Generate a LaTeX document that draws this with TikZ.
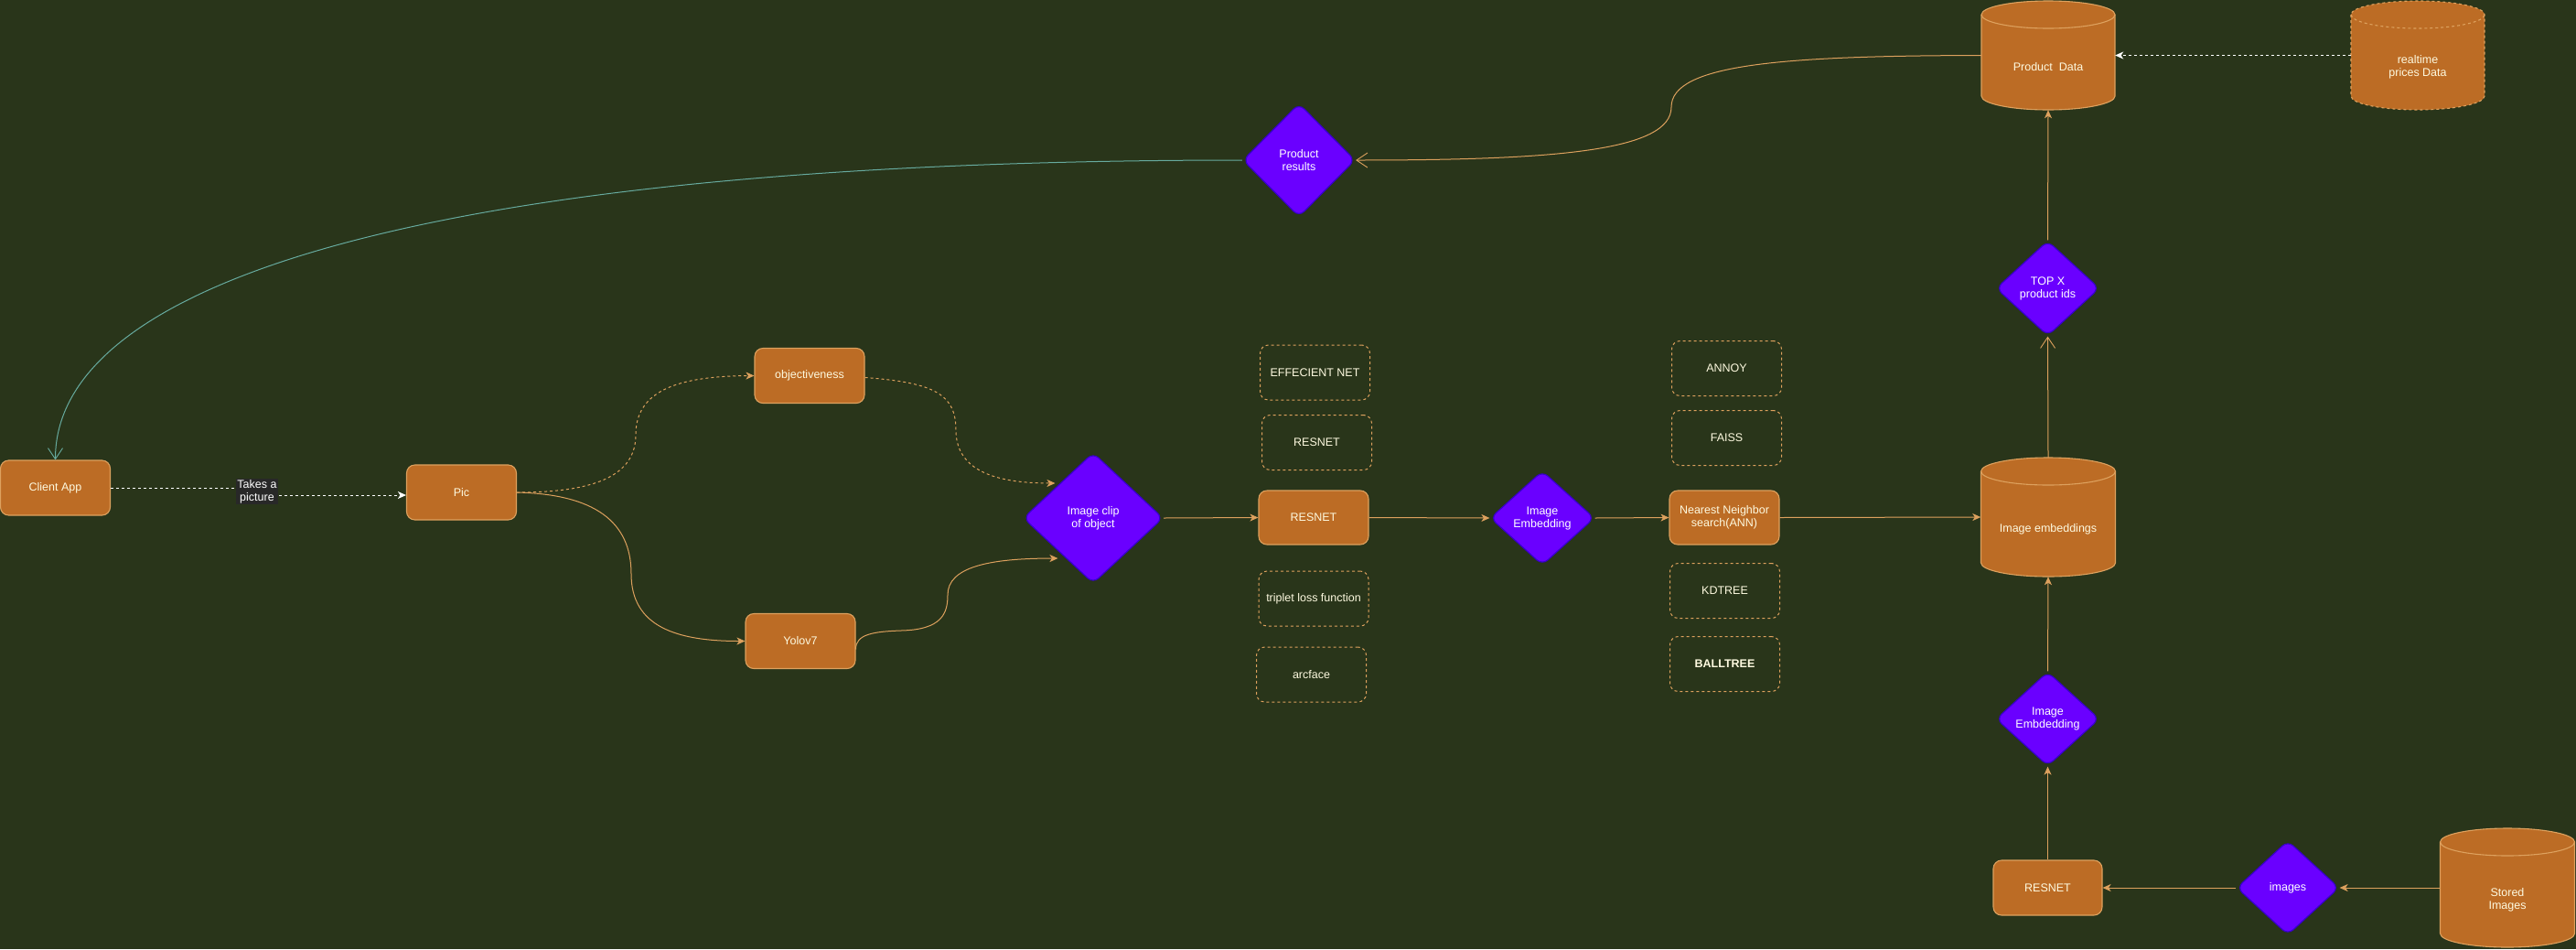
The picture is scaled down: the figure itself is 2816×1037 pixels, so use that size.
\documentclass[tikz,border=0pt]{standalone}
\usepackage{fontspec}
\setmainfont{Liberation Sans}
\usetikzlibrary{shapes.geometric,arrows.meta}
\definecolor{bg}{RGB}{41,53,26}
\definecolor{boxfill}{RGB}{188,108,37}
\definecolor{boxline}{RGB}{221,161,94}
\definecolor{cream}{RGB}{254,250,224}
\definecolor{purp}{RGB}{106,0,255}
\definecolor{purpline}{RGB}{55,0,204}
\definecolor{tealc}{RGB}{103,171,159}
\definecolor{lblbg}{RGB}{40,40,40}
\newcommand\cylpath[5]{%
  \filldraw[#5] ({#1-#4},{-(#2)-15}) -- ({#1-#4},{-(#3)+15})
    arc[start angle=180,end angle=360,x radius=#4,y radius=15]
    -- ({#1+#4},{-(#2)-15})
    arc[start angle=0,end angle=180,x radius=#4,y radius=15] -- cycle;
  \draw[#5,fill=none] ({#1-#4},{-(#2)-15})
    arc[start angle=180,end angle=360,x radius=#4,y radius=15];
}
\tikzset{
  txt/.style={font=\fontsize{12.5}{14}\selectfont, align=center},
  box/.style={txt, rectangle, rounded corners=9pt, fill=boxfill, draw=boxline,
    line width=1.1pt, text=cream, minimum width=120, minimum height=60, inner sep=2pt},
  dbox/.style={txt, rectangle, rounded corners=9pt, draw=boxline, line width=1pt,
    dash pattern=on 3pt off 3pt, text=cream, minimum width=120, minimum height=60, inner sep=2pt},
  diam/.style={txt, diamond, rounded corners=8pt, fill=purp, draw=purpline,
    line width=1.2pt, text=white, inner sep=0pt},
  cylnode/.style={rectangle, draw=none, inner sep=0pt},
  cylbody/.style={fill=boxfill, draw=boxline, line width=1.1pt},
  cyltext/.style={txt, text=cream, inner sep=1pt},
  edge/.style={draw=boxline, line width=1pt, -{Stealth[length=9pt,width=8pt,inset=2.5pt]}},
  dedge/.style={edge, dash pattern=on 3pt off 3pt},
  openedge/.style={draw=boxline, line width=1pt, -{Straight Barb[length=12pt,width=16pt,line width=0.9pt]}},
}
\begin{document}
\begin{tikzpicture}[x=1pt,y=1pt]
\fill[bg] (0,0) rectangle (2816,-1037);
\useasboundingbox (0,0) rectangle (2816,-1037);

% cylinders
\cylpath{2239}{1}{120}{73}{cylbody}
\cylpath{2643}{1}{120}{73}{cylbody,dash pattern=on 3pt off 3pt}
\cylpath{2239}{500}{630}{73.5}{cylbody}
\cylpath{2741}{905}{1035}{73.5}{cylbody}
\node[cylnode, minimum width=146, minimum height=119] (pd) at (2239,-60.5) {};
\node[cyltext] (pdt) at (2239,-73) {Product~~Data};
\node[cylnode, minimum width=146, minimum height=119] (rt) at (2643,-60.5) {};
\node[cyltext] (rtt) at (2643,-73) {realtime\\prices Data};
\node[cylnode, minimum width=147, minimum height=130] (ie) at (2239,-565) {};
\node[cyltext] (iet) at (2239,-578) {Image embeddings};
\node[cylnode, minimum width=147, minimum height=130] (st) at (2741,-970) {};
\node[cyltext] (stt) at (2741,-983) {Stored\\Images};

% boxes
\node[box] (client) at (60.5,-533) {Client App};
\node[box] (pic) at (504.5,-538) {Pic};
\node[box] (obj) at (885,-410.5) {objectiveness};
\node[box] (yolo) at (875,-700.5) {Yolov7};
\node[box, minimum height=59] (resnet) at (1436,-565.5) {RESNET};
\node[box, minimum height=59] (nn) at (1885,-565.5) {Nearest Neighbor\\search(ANN)};
\node[box, minimum width=119] (resnet2) at (2238.5,-970) {RESNET};

% dashed boxes
\node[dbox] (effnet) at (1437.5,-407) {EFFECIENT NET};
\node[dbox] (resnetd) at (1439.5,-483.5) {RESNET};
\node[dbox] (triplet) at (1436,-654) {triplet loss function};
\node[dbox] (arcface) at (1433.5,-737) {arcface};
\node[dbox] (annoy) at (1887.5,-402.5) {ANNOY};
\node[dbox] (faiss) at (1887.5,-478.5) {FAISS};
\node[dbox] (kdtree) at (1885.5,-645.5) {KDTREE};
\node[dbox, font=\fontsize{12.5}{14}\selectfont\bfseries] (balltree) at (1885.5,-725.5) {BALLTREE};

% diamonds
\node[diam, minimum width=153, minimum height=143] (clip) at (1195,-566) {Image clip\\of object};
\node[diam, minimum width=123, minimum height=124] (prodres) at (1420,-175) {Product\\results};
\node[diam, minimum width=114, minimum height=103] (imgemb) at (1686,-566) {Image\\Embedding};
\node[diam, minimum width=113, minimum height=104] (topx) at (2238.5,-315) {TOP X\\product ids};
\node[diam, minimum width=113, minimum height=103] (imgemb2) at (2238.5,-785.5) {Image\\Embdedding};
\node[diam, minimum width=112, minimum height=103] (images) at (2501,-970) {images};

% connectors
\draw[dedge, draw=white] (client.east) -- (281,-533) -- (281,-541) -- ([yshift=-3]pic.west);
\node[txt, fill=lblbg, text=white, inner sep=1.5pt] (lbl) at (281,-537) {Takes a\\picture};

\draw[dedge] (pic.east) .. controls (650,-538) and (695,-520) .. (695,-475)
  .. controls (695,-425) and (745,-411) .. (obj.west);
\draw[edge] (pic.east) .. controls (650,-540) and (690,-570) .. (690,-627)
  .. controls (690,-685) and (740,-700.5) .. (yolo.west);
\draw[dedge] ([yshift=-2]obj.east) .. controls (1020,-418) and (1045,-430) .. (1045,-470)
  .. controls (1045,-515) and (1090,-528) .. ([shift={(-3,2)}]clip.north west);
\draw[edge] ([yshift=-9]yolo.east) .. controls (935,-693) and (955,-690) .. (985,-689)
  .. controls (1030,-688) and (1036,-670) .. (1036,-650)
  .. controls (1036,-620) and (1080,-610) .. ([shift={(0,-8)}]clip.south west);
\draw[edge] (clip.east) -- (resnet.west);
\draw[edge] (resnet.east) -- (imgemb.west);
\draw[edge] (imgemb.east) -- (nn.west);
\draw[edge] (nn.east) -- (ie.west);
\draw[openedge] (ie.north) -- (topx.south);
\draw[edge] (topx.north) -- (pd.south);
\draw[dedge, draw=white] (rt.west) -- (pd.east);
\draw[openedge] (pd.west) .. controls (1950,-61) and (1827,-70) .. (1827,-117)
  .. controls (1827,-165) and (1700,-175) .. (prodres.east);
\draw[openedge, draw=tealc] (prodres.west) .. controls (500,-175) and (60.5,-300) .. (client.north);
\draw[edge] (imgemb2.north) -- (ie.south);
\draw[edge] (resnet2.north) -- (imgemb2.south);
\draw[edge] (images.west) -- (resnet2.east);
\draw[edge] (st.west) -- (images.east);
\end{tikzpicture}
\end{document}
